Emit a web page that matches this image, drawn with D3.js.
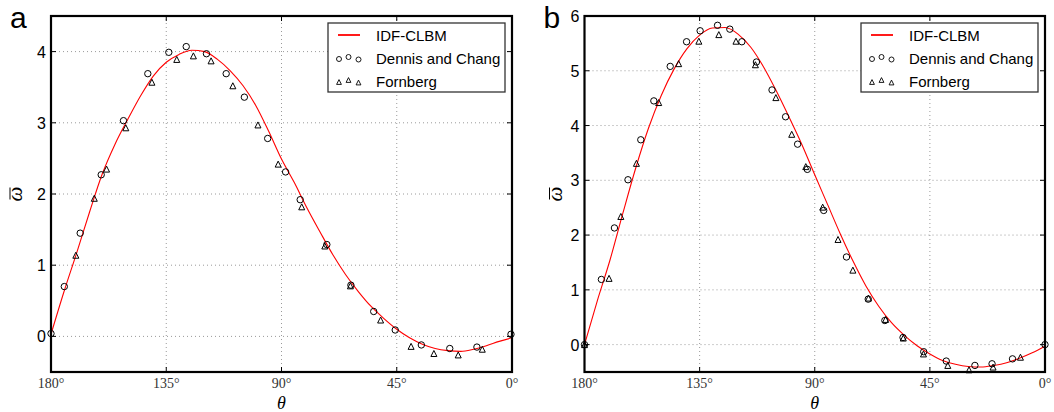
<!DOCTYPE html>
<html>
<head>
<meta charset="utf-8">
<script src="https://cdn.jsdelivr.net/npm/d3@7"></script>
<style>
  html, body { margin: 0; padding: 0; background: #fff; }
  svg { display: block; }
</style>
</head>
<body>
<svg id="chart" width="1054" height="412"></svg>
<script>
// theta ticks (degrees), axis runs 180 -> 0
const thetaTicks = [180, 135, 90, 45, 0];

// IDF-CLBM curve, sampled every 5 degrees
const lineTheta = [180, 175, 170, 165, 160, 155, 150, 145, 140, 135, 130, 125, 120, 115, 110, 105, 100, 95, 90,
  85, 80, 75, 70, 65, 60, 55, 50, 45, 40, 35, 30, 25, 20, 15, 10, 5, 0];
const lineA = [0.03, 0.62, 1.17, 1.74, 2.28, 2.70, 3.05, 3.38, 3.66, 3.85, 3.96, 4.02, 4.00, 3.89, 3.73, 3.52, 3.24, 2.88, 2.49,
  2.16, 1.80, 1.47, 1.15, 0.87, 0.63, 0.42, 0.25, 0.10, -0.02, -0.11, -0.17, -0.20, -0.21, -0.18, -0.13, -0.07, -0.02];
const lineB = [0.00, 0.80, 1.55, 2.40, 3.22, 3.95, 4.55, 5.03, 5.40, 5.65, 5.78, 5.79, 5.67, 5.43, 5.07, 4.63, 4.15, 3.65, 3.10,
  2.56, 2.02, 1.52, 1.07, 0.70, 0.40, 0.17, -0.02, -0.17, -0.29, -0.36, -0.40, -0.41, -0.38, -0.33, -0.25, -0.15, -0.03];

// Dennis and Chang (circles)
const dcThetaA = [180, 174.8, 168.6, 160.4, 151.7, 142.2, 134.0, 127.2, 119.3, 111.6, 104.5, 95.4, 88.4, 82.7, 72.3, 62.9, 54.0, 45.6, 35.4, 24.3, 13.7, 0.4];
const dcOmegaA = [0.04, 0.70, 1.45, 2.27, 3.03, 3.69, 3.99, 4.07, 3.97, 3.69, 3.36, 2.78, 2.31, 1.92, 1.29, 0.72, 0.35, 0.09, -0.12, -0.17, -0.15, 0.03];
const dcThetaB = [180, 173.4, 168.3, 163.0, 158.0, 152.9, 146.5, 140.1, 134.8, 128.0, 123.2, 118.5, 112.8, 106.7, 101.4, 96.7, 92.9,
  86.5, 77.6, 69.1, 62.6, 55.5, 47.4, 38.6, 27.4, 20.7, 12.7, 0];
const dcOmegaB = [0.0, 1.19, 2.13, 3.01, 3.74, 4.45, 5.08, 5.53, 5.73, 5.83, 5.76, 5.53, 5.16, 4.65, 4.16, 3.66, 3.20,
  2.45, 1.60, 0.83, 0.44, 0.13, -0.13, -0.30, -0.38, -0.35, -0.26, 0.0];

// Fornberg (triangles)
const fbThetaA = [170.3, 163.1, 158.3, 150.8, 140.6, 130.9, 124.4, 117.5, 109.0, 99.2, 91.3, 82.1, 73.1, 63.1, 51.3, 39.4, 30.5, 21.0, 11.6];
const fbOmegaA = [1.14, 1.94, 2.35, 2.93, 3.57, 3.89, 3.94, 3.87, 3.52, 2.97, 2.42, 1.82, 1.27, 0.71, 0.23, -0.14, -0.24, -0.26, -0.18];
const fbThetaB = [180, 170.4, 165.8, 159.7, 151.0, 143.2, 135.3, 127.5, 120.8, 113.2, 105.2, 99.0, 93.5, 86.9, 80.9, 75.1,
  69.0, 62.3, 55.4, 47.5, 38.0, 29.7, 20.3, 9.6];
const fbOmegaB = [0.0, 1.21, 2.34, 3.31, 4.42, 5.13, 5.54, 5.66, 5.54, 5.11, 4.51, 3.84, 3.25, 2.51, 1.92, 1.36,
  0.85, 0.46, 0.12, -0.17, -0.38, -0.46, -0.41, -0.23];

const yTicksA = [0, 1, 2, 3, 4];
const yTicksB = [0, 1, 2, 3, 4, 5, 6];
const legendLabels = ["IDF-CLBM", "Dennis and Chang", "Fornberg"];

const svg = d3.select("#chart");
const sans = "'Liberation Sans', Arial, Helvetica, sans-serif";
const serif = "'Liberation Serif', 'Times New Roman', serif";

function zip(xs, ys) {
  return xs.map((x, i) => ({ t: x, v: ys[i] }));
}

function triPath(r) {
  return `M0,${-r}L${r},${r}L${-r},${r}Z`;
}

function drawPanel(p) {
  const x = d3.scaleLinear().domain([180, 0]).range([p.left, p.right]);
  const y = d3.scaleLinear().domain(p.yDomain).range([372, 16]);
  const g = svg.append("g");

  // grid
  g.selectAll(".vgrid").data(thetaTicks).join("line")
    .attr("x1", d => x(d)).attr("x2", d => x(d))
    .attr("y1", y.range()[0]).attr("y2", y.range()[1])
    .attr("stroke", "#9a9a9a").attr("stroke-width", 1).attr("stroke-dasharray", "1,3");
  g.selectAll(".hgrid").data(p.yTicks).join("line")
    .attr("x1", p.left).attr("x2", p.right)
    .attr("y1", d => y(d)).attr("y2", d => y(d))
    .attr("stroke", "#9a9a9a").attr("stroke-width", 1).attr("stroke-dasharray", "1,3");

  // curve
  const line = d3.line().x(d => x(d.t)).y(d => y(d.v)).curve(d3.curveMonotoneX);
  g.append("path")
    .datum(zip(lineTheta, p.line))
    .attr("d", line)
    .attr("fill", "none").attr("stroke", "#ff0000").attr("stroke-width", 1.1);

  // markers
  g.selectAll(".dc").data(zip(p.dcT, p.dcV)).join("circle")
    .attr("cx", d => x(d.t)).attr("cy", d => y(d.v)).attr("r", 3.2)
    .attr("fill", "none").attr("stroke", "#000").attr("stroke-width", 1);
  g.selectAll(".fb").data(zip(p.fbT, p.fbV)).join("path")
    .attr("d", triPath(3))
    .attr("transform", d => `translate(${x(d.t)},${y(d.v)})`)
    .attr("fill", "none").attr("stroke", "#000").attr("stroke-width", 1);

  // frame
  g.append("rect")
    .attr("x", p.left).attr("y", 16)
    .attr("width", p.right - p.left).attr("height", 356)
    .attr("fill", "none").attr("stroke", "#000").attr("stroke-width", 2.2);

  // ticks (inward, all four sides) + labels
  const inner = thetaTicks.slice(1, -1);
  g.selectAll(".xtb").data(inner).join("line")
    .attr("x1", d => x(d)).attr("x2", d => x(d)).attr("y1", 372).attr("y2", 367)
    .attr("stroke", "#000");
  g.selectAll(".xtt").data(inner).join("line")
    .attr("x1", d => x(d)).attr("x2", d => x(d)).attr("y1", 16).attr("y2", 21)
    .attr("stroke", "#000");
  g.selectAll(".ytl").data(p.yTicks).join("line")
    .attr("x1", p.left).attr("x2", p.left + 5).attr("y1", d => y(d)).attr("y2", d => y(d))
    .attr("stroke", "#000");
  g.selectAll(".ytr").data(p.yTicks).join("line")
    .attr("x1", p.right - 5).attr("x2", p.right).attr("y1", d => y(d)).attr("y2", d => y(d))
    .attr("stroke", "#000");

  g.selectAll(".xl").data(thetaTicks).join("text")
    .attr("x", d => x(d)).attr("y", 388)
    .attr("text-anchor", "middle")
    .attr("font-family", serif).attr("font-size", 14).attr("fill", "#333")
    .text(d => d + "°");
  g.selectAll(".yl").data(p.yTicks).join("text")
    .attr("x", p.left - 5).attr("y", d => y(d) + 6)
    .attr("text-anchor", "end")
    .attr("font-family", sans).attr("font-size", 16).attr("fill", "#000")
    .text(d => d);

  // axis titles
  g.append("text")
    .attr("x", (p.left + p.right) / 2).attr("y", 409)
    .attr("text-anchor", "middle")
    .attr("font-family", serif).attr("font-style", "italic").attr("font-size", 18)
    .text("θ");
  const yl = g.append("g")
    .attr("transform", `translate(${p.left - p.ylabOff},194) rotate(-90)`);
  yl.append("text")
    .attr("y", 5)
    .attr("text-anchor", "middle")
    .attr("font-family", serif).attr("font-style", "italic").attr("font-size", 21)
    .text("ω");
  yl.append("line")
    .attr("x1", -5.5).attr("x2", 6.5).attr("y1", -7).attr("y2", -7)
    .attr("stroke", "#000").attr("stroke-width", 1);

  // panel letter
  g.append("text")
    .attr("x", p.left - 41).attr("y", 28)
    .attr("font-family", sans).attr("font-size", 30)
    .text(p.letter);

  // legend
  const lx = p.right - 184, ly = 23;
  const lg = g.append("g").attr("transform", `translate(${lx},${ly})`);
  lg.append("rect")
    .attr("width", 177).attr("height", 69)
    .attr("fill", "#fff").attr("stroke", "#333").attr("stroke-width", 1.3);
  const rows = [12, 35, 58];
  lg.append("line")
    .attr("x1", 10).attr("x2", 32).attr("y1", rows[0]).attr("y2", rows[0])
    .attr("stroke", "#ff0000").attr("stroke-width", 1.8);
  const mx = [11, 20.5, 30.5], my = [1, -1, 1.5];
  lg.selectAll(".lc").data(mx).join("circle")
    .attr("cx", d => d).attr("cy", (d, i) => rows[1] + my[i]).attr("r", 2.5)
    .attr("fill", "none").attr("stroke", "#000").attr("stroke-width", 0.9);
  lg.selectAll(".lt").data(mx).join("path")
    .attr("d", triPath(2.4))
    .attr("transform", (d, i) => `translate(${d},${rows[2] + my[i]})`)
    .attr("fill", "none").attr("stroke", "#000").attr("stroke-width", 0.9);
  lg.selectAll(".ll").data(legendLabels).join("text")
    .attr("x", 48).attr("y", (d, i) => rows[i] + 5.5)
    .attr("font-family", sans).attr("font-size", 15)
    .text(d => d);
}

drawPanel({
  letter: "a", left: 51, right: 512, yDomain: [-0.5, 4.5], yTicks: yTicksA, ylabOff: 34,
  line: lineA, dcT: dcThetaA, dcV: dcOmegaA, fbT: fbThetaA, fbV: fbOmegaA
});
drawPanel({
  letter: "b", left: 584.5, right: 1045, yDomain: [-0.5, 6], yTicks: yTicksB, ylabOff: 28,
  line: lineB, dcT: dcThetaB, dcV: dcOmegaB, fbT: fbThetaB, fbV: fbOmegaB
});
</script>
</body>
</html>
